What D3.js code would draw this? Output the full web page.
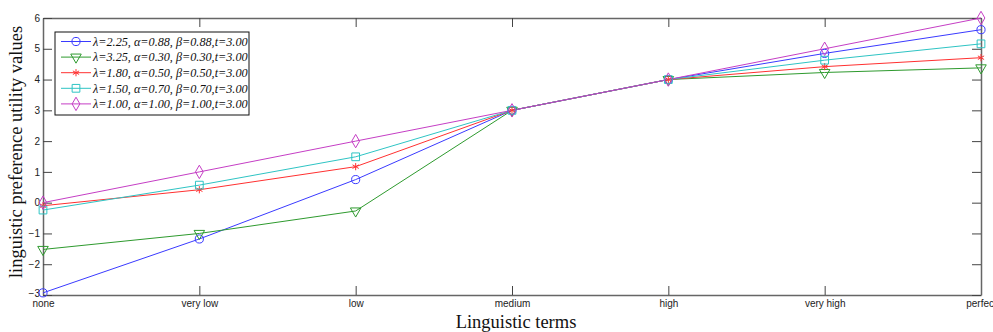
<!DOCTYPE html>
<html>
<head>
<meta charset="utf-8">
<script src="https://cdn.jsdelivr.net/npm/d3@7"></script>
<style>
  body { margin: 0; background: #fff; }
  svg { display: block; }
  .tick text { font-family: "Liberation Sans", Arial, sans-serif; font-size: 10px; fill: #222; }
</style>
</head>
<body>
<svg id="chart" width="993" height="332"></svg>
<script>
// categories on the x axis
const terms = ['none', 'very low', 'low', 'medium', 'high', 'very high', 'perfect'];
const yTicks = [-3, -2, -1, 0, 1, 2, 3, 4, 5, 6];

// one list per parameter set
const s1 = [-2.93, -1.18, 0.75, 3.0, 4.0, 4.85, 5.62];
const s2 = [-1.52, -1.0, -0.27, 3.0, 4.0, 4.23, 4.38];
const s3 = [-0.1, 0.42, 1.17, 3.0, 4.0, 4.42, 4.71];
const s4 = [-0.24, 0.57, 1.49, 3.0, 4.0, 4.63, 5.16];
const s5 = [0.0, 1.0, 2.0, 3.0, 4.0, 5.0, 6.0];

const labels = [
    'λ=2.25, α=0.88, β=0.88,t=3.00',
    'λ=3.25, α=0.30, β=0.30,t=3.00',
    'λ=1.80, α=0.50, β=0.50,t=3.00',
    'λ=1.50, α=0.70, β=0.70,t=3.00',
    'λ=1.00, α=1.00, β=1.00,t=3.00'
];

const series = [
    {name: labels[0], values: s1, color: '#3a3aff', shape: 'circle'},
    {name: labels[1], values: s2, color: '#2e9a2e', shape: 'tri'},
    {name: labels[2], values: s3, color: '#ff3030', shape: 'star'},
    {name: labels[3], values: s4, color: '#2ec4c4', shape: 'square'},
    {name: labels[4], values: s5, color: '#c53ec5', shape: 'diamond'}
];

const margin = {top: 18, right: 12, bottom: 37, left: 43};
const W = 993, H = 332;
const width = W - margin.left - margin.right;
const height = H - margin.top - margin.bottom;

const svg = d3.select('#chart');
const chart = svg.append('g')
    .attr('transform', `translate(${margin.left},${margin.top})`);

const x = d3.scalePoint().domain(terms).range([0, width]);
const y = d3.scaleLinear().domain([-3, 6]).range([height, 0]);

const axisColor = '#666';

// axes, ticks pointing inwards like matlab
const xAxisB = d3.axisBottom(x).tickSize(-9).tickSizeOuter(0).tickPadding(5);
const xAxisT = d3.axisTop(x).tickSize(-9).tickSizeOuter(0).tickFormat('');
const yAxisL = d3.axisLeft(y).tickValues(yTicks).tickSize(-9).tickSizeOuter(0).tickPadding(3);
const yAxisR = d3.axisRight(y).tickValues(yTicks).tickSize(-9).tickSizeOuter(0).tickFormat('');

chart.append('g').attr('transform', `translate(0,${height})`).call(xAxisB);
chart.append('g').call(xAxisT);
const yG = chart.append('g').call(yAxisL);
chart.append('g').attr('transform', `translate(${width},0)`).call(yAxisR);

// lowest y label sits a little above the axis corner
yG.selectAll('.tick text').filter(d => d === -3).attr('dy', '0.1em');

chart.selectAll('.domain').attr('stroke', axisColor).attr('stroke-width', 1.5);
chart.selectAll('.tick line').attr('stroke', '#444');
chart.selectAll('.tick text').attr('fill', '#222');

// markers
function markerPath(shape) {
    if (shape === 'circle') return d3.symbol(d3.symbolCircle, 52)();
    if (shape === 'tri') return d3.symbol(d3.symbolTriangle, 48)();
    if (shape === 'star') return d3.symbol(d3.symbolAsterisk, 36)();
    if (shape === 'square') return d3.symbol(d3.symbolSquare, 60)();
    return d3.symbol(d3.symbolDiamond, 52)();
}
function markerTransform(shape, px, py) {
    if (shape === 'tri') return `translate(${px},${py}) rotate(180)`;
    return `translate(${px},${py})`;
}

const line = d3.line()
    .x((d, i) => x(terms[i]))
    .y(d => y(d));

series.forEach(s => {
    chart.append('path')
        .datum(s.values)
        .attr('fill', 'none')
        .attr('stroke', s.color)
        .attr('stroke-width', 1)
        .attr('d', line);
});

series.forEach(s => {
    chart.selectAll(null)
        .data(s.values)
        .join('path')
        .attr('d', markerPath(s.shape))
        .attr('transform', (d, i) => markerTransform(s.shape, x(terms[i]), y(d)))
        .attr('fill', s.shape === 'star' ? s.color : 'none')
        .attr('stroke', s.color)
        .attr('stroke-width', 1);
});

// legend
const legend = svg.append('g').attr('transform', 'translate(55,32)');
legend.append('rect')
    .attr('width', 194)
    .attr('height', 83)
    .attr('fill', '#fff')
    .attr('stroke', '#111')
    .attr('stroke-width', 1);

series.forEach((s, i) => {
    const ly = 9.5 + i * 15.6;
    const row = legend.append('g').attr('transform', `translate(0,${ly})`);
    row.append('line')
        .attr('x1', 6).attr('x2', 36)
        .attr('stroke', s.color).attr('stroke-width', 1);
    row.append('path')
        .attr('d', markerPath(s.shape))
        .attr('transform', markerTransform(s.shape, 21, 0))
        .attr('fill', s.shape === 'star' ? s.color : 'none')
        .attr('stroke', s.color);
    row.append('text')
        .attr('x', 38)
        .attr('dy', '0.35em')
        .attr('font-family', '"Liberation Serif", "Times New Roman", serif')
        .attr('font-style', 'italic')
        .attr('font-size', 12.2)
        .attr('fill', '#111')
        .text(s.name);
});

// axis titles
svg.append('text')
    .attr('x', margin.left + width / 2 + 4)
    .attr('y', 328)
    .attr('text-anchor', 'middle')
    .attr('font-family', '"Liberation Serif", "Times New Roman", serif')
    .attr('font-size', 18.5)
    .attr('fill', '#111')
    .text('Linguistic terms');

svg.append('text')
    .attr('transform', 'translate(22,152) rotate(-90)')
    .attr('text-anchor', 'middle')
    .attr('font-family', '"Liberation Serif", "Times New Roman", serif')
    .attr('font-size', 18.5)
    .attr('fill', '#111')
    .text('linguistic preference utility values');
</script>
</body>
</html>
